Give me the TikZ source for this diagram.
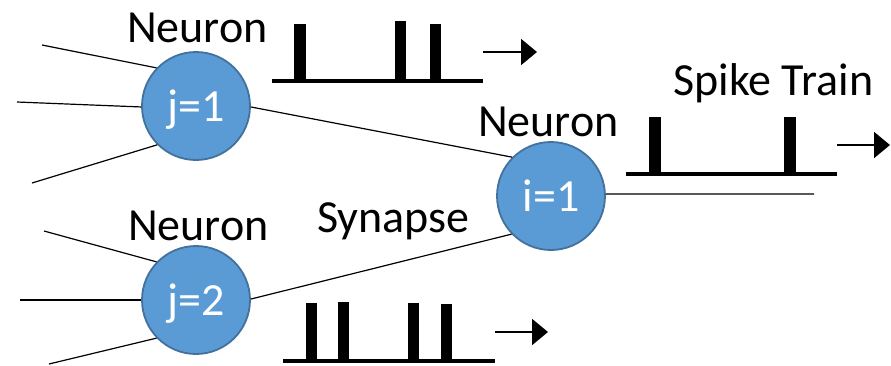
\documentclass[tikz,border=0pt]{standalone}
\usepackage{fontspec}
\setmainfont{Carlito}
\usetikzlibrary{arrows.meta}
\definecolor{cellfill}{HTML}{5B9BD5}
\definecolor{celledge}{HTML}{41719C}
\begin{document}
\begin{tikzpicture}[x=1pt,y=-1pt,
  neuron/.style={circle, fill=cellfill, draw=celledge, line width=1.8pt,
    minimum size=108pt, inner sep=0pt, text=white,
    font=\fontsize{46}{50}\selectfont, text height=30pt, text depth=0pt},
  tagtext/.style={font=\fontsize{46}{50}\selectfont, inner sep=0pt, anchor=base west},
  wire/.style={line width=1.2pt},
  flow/.style={line width=2pt, -{Triangle[length=16pt,width=26pt]}}]
\useasboundingbox (0,0) rectangle (891,365);

% neurons
\node[neuron] (j1) at (196,106) {j=1};
\node[neuron] (j2) at (196,300) {j=2};
\node[neuron] (i1) at (551,196) {i=1};

% input dendrites
\coordinate (a1) at (42,45);
\coordinate (a2) at (17,102);
\coordinate (a3) at (32,183);
\coordinate (b1) at (44,231);
\coordinate (b2) at (20,300);
\coordinate (b3) at (49,364);
\draw[wire] (a1) -- (j1.136);
\draw[wire] (a2) -- (j1.181);
\draw[wire] (a3) -- (j1.225);
\draw[wire] (b1) -- (j2.136);
\draw[wire] (b2) -- (j2.180);
\draw[wire] (b3) -- (j2.224);

% synapses and output axon
\draw[wire] (j1.359) -- (i1.135);
\draw[wire] (j2.1) -- (i1.224);
\coordinate (ax) at (814,194);
\draw[wire] (i1.2) -- (ax);

% spike train of neuron j=1
\fill (272,79) rectangle (483,83);
\fill (294,24) rectangle (306,81);
\fill (395,21) rectangle (406,81);
\fill (430,24) rectangle (441,81);
\coordinate (t1s) at (483,52);
\coordinate (t1e) at (537,52);
\draw[flow] (t1s) -- (t1e);

% spike train of neuron j=2
\fill (283,359) rectangle (495,363);
\fill (306,303) rectangle (317,361);
\fill (338,302) rectangle (349,361);
\fill (408,303) rectangle (419,361);
\fill (441,304) rectangle (452,361);
\coordinate (t2s) at (495,332);
\coordinate (t2e) at (548,332);
\draw[flow] (t2s) -- (t2e);

% spike train of neuron i=1
\fill (626,172) rectangle (837,176);
\fill (649,117) rectangle (661,174);
\fill (784,117) rectangle (796,174);
\coordinate (t3s) at (837,145);
\coordinate (t3e) at (890,145);
\draw[flow] (t3s) -- (t3e);

% labels
\node[tagtext] (nj1) at (127,42) {Neuron};
\node[tagtext] (nj2) at (128,240) {Neuron};
\node[tagtext] (ni1) at (478,136) {Neuron};
\node[tagtext] (syn) at (317,232) {Synapse};
\node[tagtext] (spk) at (673,95) {Spike Train};
\end{tikzpicture}
\end{document}
